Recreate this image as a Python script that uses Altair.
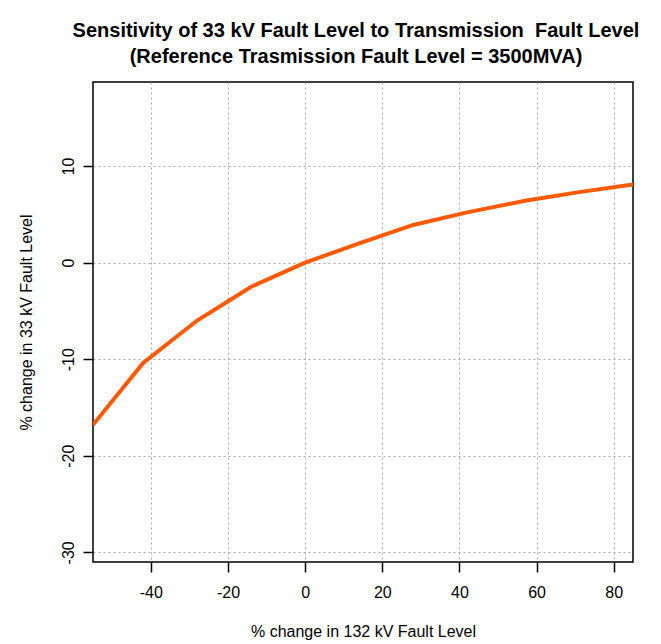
import altair as alt
import pandas as pd

x_change = [-55, -42, -28, -14, 0, 14, 28, 42, 57, 71, 85]
y_change = [-16.8, -10.4, -6.0, -2.5, 0.0, 2.0, 3.9, 5.2, 6.4, 7.3, 8.1]
x_ticks = [-40, -20, 0, 20, 40, 60, 80]
y_ticks = [-30, -20, -10, 0, 10]

df = pd.DataFrame({"x": x_change, "y": y_change})

FONT = "Liberation Sans"

chart = alt.Chart(df).mark_line(color="#ff5a00", strokeWidth=4, clip=True).encode(
    x=alt.X("x:Q", scale=alt.Scale(domain=[-55, 85], nice=False, zero=False),
            axis=alt.Axis(values=x_ticks, title="% change in 132 kV Fault Level",
                          labelExpr="'' + datum.value",
                          labelPadding=12, titleX=270, titleY=69, titleBaseline="middle")),
    y=alt.Y("y:Q", scale=alt.Scale(domain=[-31.0, 18.7], nice=False, zero=False),
            axis=alt.Axis(values=y_ticks, title="% change in 33 kV Fault Level",
                          labelExpr="'' + datum.value",
                          labelAngle=-90, labelPadding=7, titleX=-67, titleY=240,
                          titleBaseline="middle", titleAngle=-90)),
).properties(
    width=540,
    height=480,
    autosize=alt.AutoSizeParams(type="none"),
    padding={"left": 85, "top": 74, "right": 20, "bottom": 82},
    title=alt.TitleParams(
        text=["Sensitivity of 33 kV Fault Level to Transmission \u00a0Fault Level",
              "(Reference Trasmission Fault Level = 3500MVA)"],
        font=FONT, fontSize=20, fontWeight="bold", color="black",
        anchor="middle", lineHeight=26, offset=15, dx=-7,
    ),
).configure(
    background="white"
).configure_view(
    stroke="black", strokeWidth=1.5
).configure_axis(
    domain=False,
    grid=True,
    gridColor="#a8a8a8",
    gridDash=[2, 3],
    gridWidth=1,
    tickColor="black",
    tickSize=10,
    tickWidth=1.5,
    labelFont=FONT,
    labelFontSize=16,
    labelColor="black",
    titleFont=FONT,
    titleFontSize=16,
    titleFontWeight="normal",
    titleColor="black",
)

chart.save("out.html", embed_options={"renderer": "svg", "actions": False})
